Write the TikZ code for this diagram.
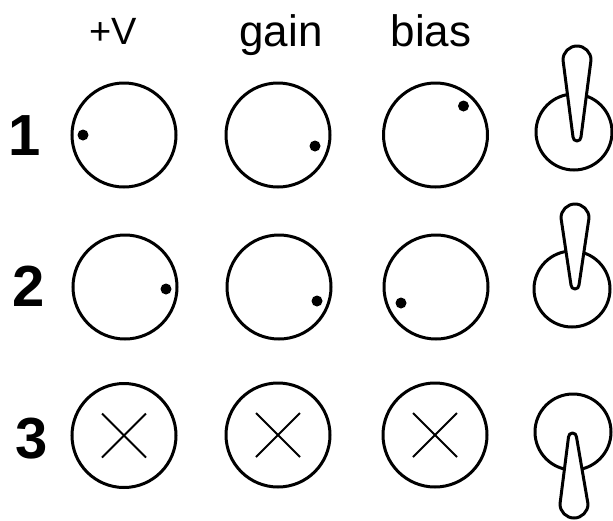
\documentclass[tikz,border=0pt]{standalone}
\usepackage{fontspec}
\setmainfont{Liberation Sans}
\usetikzlibrary{calc}
\tikzset{
  knob/.style={circle, draw=black, line width=3pt, minimum size=104pt, inner sep=0pt},
  sw/.style={circle, draw=black, line width=3pt, minimum size=76pt, inner sep=0pt},
  lever/.style={draw=black, fill=white, line width=3pt, line join=round},
  cross/.style={draw=black, line width=1.8pt},
  headv/.style={anchor=base, inner sep=0pt, font=\fontsize{38}{40}\selectfont},
  head/.style={anchor=base, inner sep=0pt, font=\fontsize{44}{46}\selectfont},
  rowlab/.style={anchor=base, inner sep=0pt, font=\bfseries\fontsize{58}{60}\selectfont},
  dot/.style={fill=black}
}
\begin{document}
\begin{tikzpicture}[x=1pt,y=1pt]
\useasboundingbox (0,0) rectangle (613,-520);
% headers
\node[headv] (hv) at (113,-44) {+V};
\node[head] (hgain) at (281,-46) {gain};
\node[head] (hbias) at (431,-46) {bias};
% row labels
\node[rowlab] (r1) at (25,-155) {1};
\node[rowlab] (r2) at (29,-306) {2};
\node[rowlab] (r3) at (32,-458) {3};
% knobs
\node[knob] (k11) at (124,-135) {};
\node[knob] (k12) at (278,-135) {};
\node[knob] (k13) at (435.5,-135) {};
\node[knob] (k21) at (125,-287) {};
\node[knob] (k22) at (279,-287) {};
\node[knob] (k23) at (436,-287) {};
\node[knob] (k31) at (124,-435.5) {};
\node[knob] (k32) at (278,-435) {};
\node[knob] (k33) at (435,-435) {};
% dots
\fill[dot] ($(k11)+(-41,0)$) circle (5.5pt);
\fill[dot] ($(k12)+(37,-11)$) circle (5.5pt);
\fill[dot] ($(k13)+(28,29)$) circle (5.5pt);
\fill[dot] ($(k21)+(41,-2)$) circle (5.5pt);
\fill[dot] ($(k22)+(38,-14)$) circle (5.5pt);
\fill[dot] ($(k23)+(-35,-16)$) circle (5.5pt);
% crosses
\foreach \k in {k31,k32,k33}{
  \draw[cross] ($(\k)+(-22,22)$) -- ($(\k)+(22,-22)$);
  \draw[cross] ($(\k)+(-22,-22)$) -- ($(\k)+(22,22)$);
}
% switches
\node[sw] (s1) at (574,-132) {};
\node[sw] (s2) at (572,-289) {};
\node[sw] (s3) at (573,-432) {};
% levers (up)
\draw[lever] (563,-60) arc[start angle=180,end angle=0,radius=14pt] -- (581,-137) arc[start angle=0,end angle=-180,radius=4pt] -- cycle;
\draw[lever] (561,-218) arc[start angle=180,end angle=0,radius=14pt] -- (579,-285) arc[start angle=0,end angle=-180,radius=4pt] -- cycle;
% lever (down)
\draw[lever] (568.5,-437) arc[start angle=180,end angle=0,radius=4pt] -- (588,-504) arc[start angle=0,end angle=-180,radius=14pt] -- cycle;
\end{tikzpicture}
\end{document}
